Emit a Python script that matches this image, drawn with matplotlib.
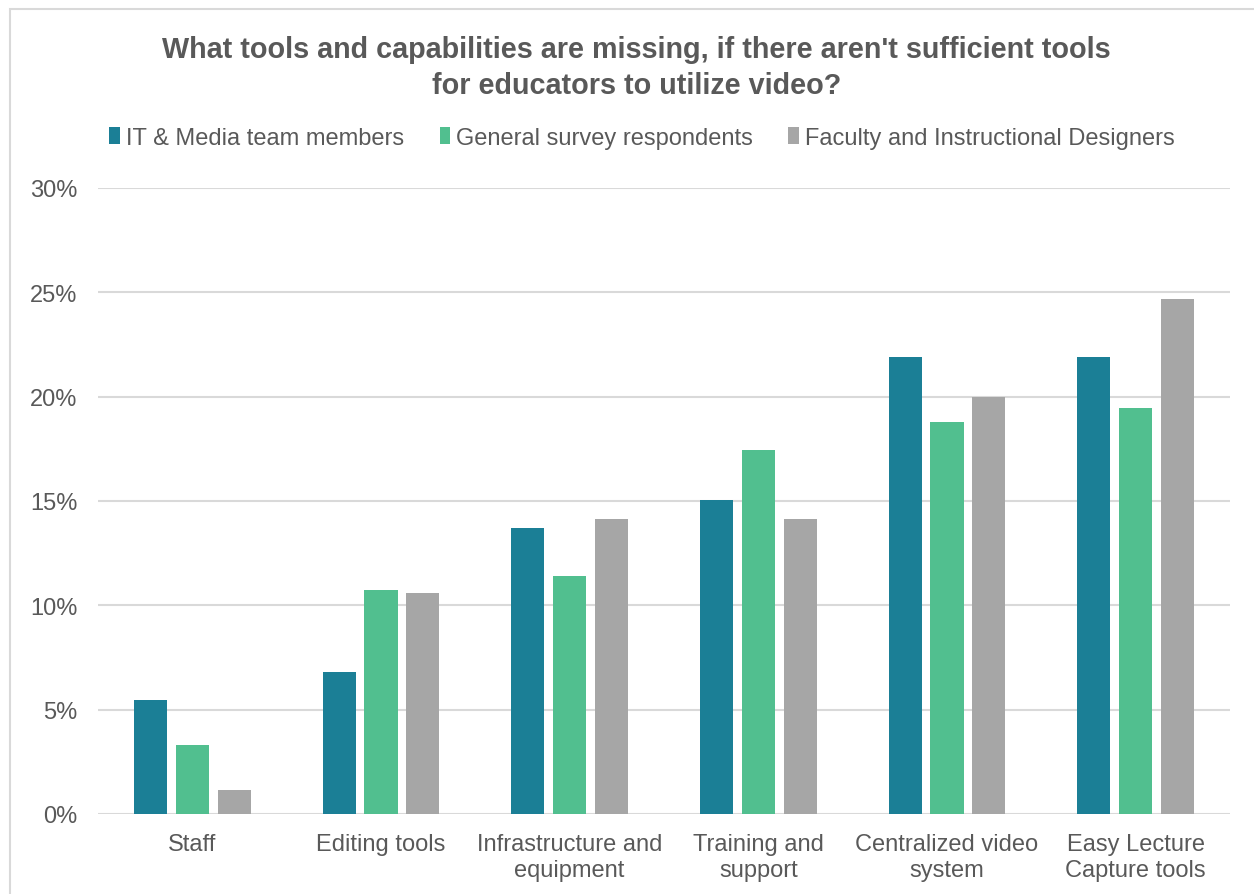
import numpy as np
import matplotlib
matplotlib.use("Agg")
import matplotlib.pyplot as plt
from matplotlib.patches import Rectangle
from matplotlib.ticker import PercentFormatter

categories = ["Staff", "Editing tools", "Infrastructure and\nequipment",
              "Training and\nsupport", "Centralized video\nsystem",
              "Easy Lecture\nCapture tools"]
series_names = ["IT & Media team members", "General survey respondents",
                "Faculty and Instructional Designers"]
it_media = [5.46, 6.82, 13.7, 15.05, 21.9, 21.9]
general = [3.33, 10.73, 11.4, 17.44, 18.78, 19.45]
faculty = [1.16, 10.59, 14.12, 14.12, 20.0, 24.7]
colors = ["#1B7F96", "#51BF8F", "#A6A6A6"]
text_color = "#595959"

plt.rcParams["font.family"] = ["Liberation Sans", "DejaVu Sans"]

fig = plt.figure(figsize=(12.54, 8.95), dpi=100)
fig.patches.append(Rectangle((10 / 1254, -0.01), 1.1, 1 - 10 / 895 + 0.01,
                             transform=fig.transFigure, fill=False,
                             edgecolor="#D9D9D9", linewidth=1.5))

ax = fig.add_axes([98 / 1254, 1 - 815 / 895, (1230 - 98) / 1254, (815 - 189) / 895])

x = np.arange(len(categories))
width = 0.175
step = 0.222
for i, (vals, name, c) in enumerate(zip([it_media, general, faculty], series_names, colors)):
    ax.bar(x + (i - 1) * step, vals, width, color=c, label=name, zorder=3)

ax.set_xlim(-0.5, len(categories) - 0.5)
ax.set_ylim(0, 30)
ax.set_yticks(np.arange(0, 31, 5))
ax.yaxis.set_major_formatter(PercentFormatter(decimals=0))
ax.set_xticks(x)
ax.set_xticklabels(categories, linespacing=1.2)
ax.grid(axis="y", color="#D9D9D9", linewidth=1.5, zorder=0)
for s in ["top", "right", "left", "bottom"]:
    ax.spines[s].set_visible(False)
ax.tick_params(axis="both", length=0, labelsize=17, colors=text_color)
ax.tick_params(axis="y", pad=15)
ax.tick_params(axis="x", pad=14)

fig.text(636.5 / 1254, 1 - 68 / 895,
         "What tools and capabilities are missing, if there aren't sufficient tools\nfor educators to utilize video?",
         ha="center", va="center", fontsize=20.7, fontweight="bold",
         color=text_color, linespacing=1.4)

leg = fig.legend(loc="center", bbox_to_anchor=(0.512, 1 - 139 / 895), ncol=3,
                 frameon=False, fontsize=17, handlelength=0.45, handleheight=0.7,
                 handletextpad=0.25, columnspacing=1.5)
for t in leg.get_texts():
    t.set_color(text_color)

fig.savefig("out.png", dpi=100, facecolor="white")
